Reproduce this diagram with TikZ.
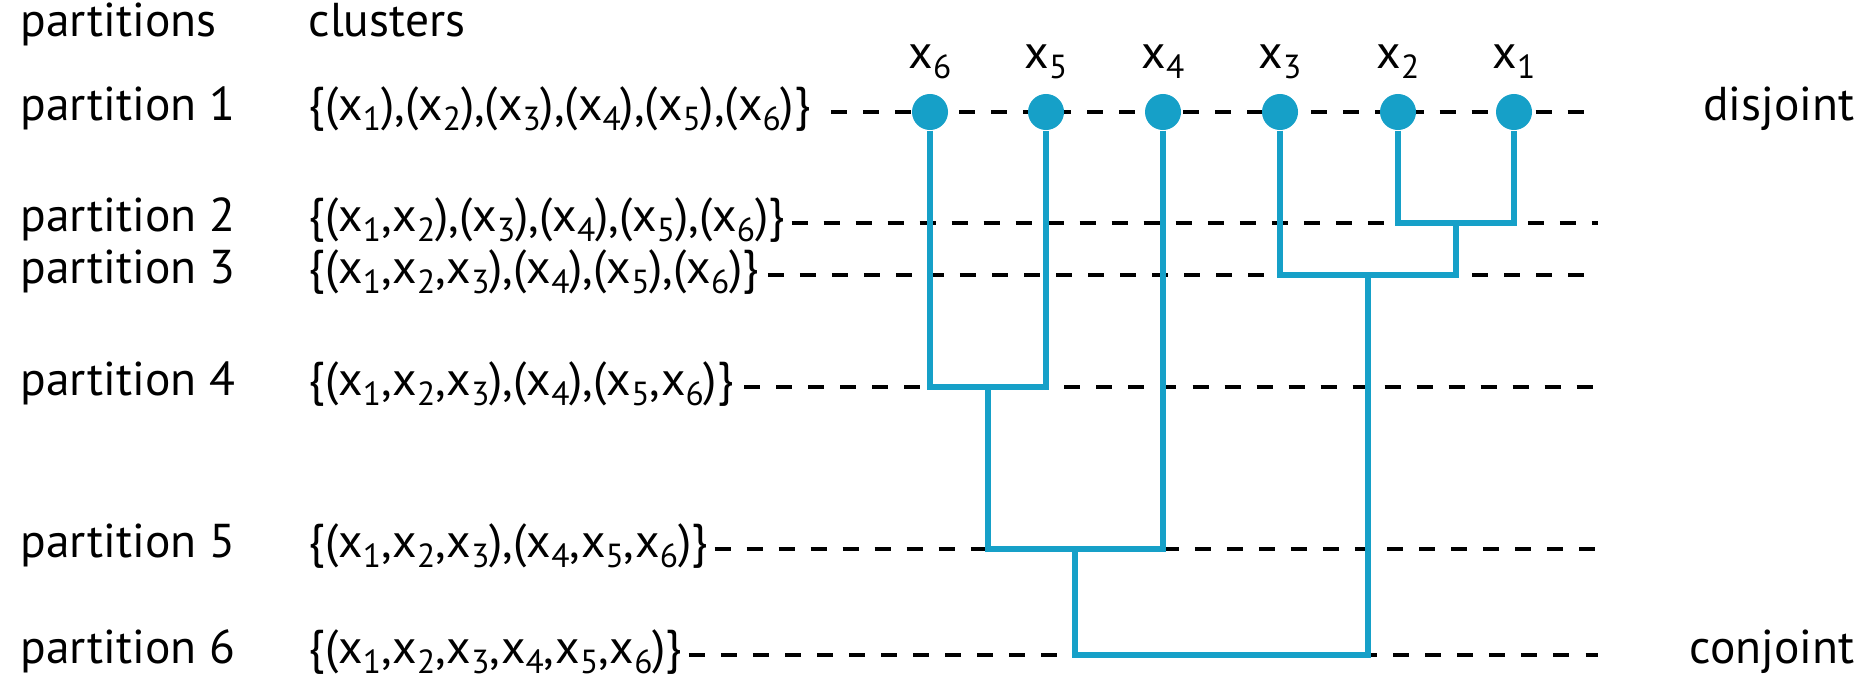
\documentclass[tikz,border=0pt]{standalone}
\usepackage{fontspec}
\setmainfont{PT Sans}
\usepackage{xcolor}
\usepackage{tikz}
\usetikzlibrary{positioning,calc}

\definecolor{dendroblue}{RGB}{22,160,200}
\newcommand{\xs}[1]{x\raisebox{-0.42ex}{\fontsize{9.5}{11}\selectfont #1}}

\begin{document}
\begin{tikzpicture}[
    x=0.01cm, y=-0.01cm,
    font=\fontsize{13.5}{16}\selectfont,
    rowlabel/.style={anchor=mid west, inner sep=0pt},
    clusterset/.style={anchor=mid west, inner sep=0pt},
    xlab/.style={anchor=mid, inner sep=0pt},
    leaf/.style={circle, fill=dendroblue, inner sep=0pt, minimum size=0.36cm},
    guide/.style={draw, line width=1.05pt, dash pattern=on 0.16cm off 0.16cm},
    link/.style={draw=dendroblue, line width=1.8pt}
]
\useasboundingbox (0,0) rectangle (1870,682);

% Headings
\node[rowlabel] (hp) at (20,28) {partitions};
\node[clusterset] (hc) at (308,28) {clusters};

% Partitions (left column)
\node[rowlabel] (r1) at (20,112) {partition 1};
\node[rowlabel] (r2) at (20,223) {partition 2};
\node[rowlabel] (r3) at (20,275) {partition 3};
\node[rowlabel] (r4) at (20,387) {partition 4};
\node[rowlabel] (r5) at (20,549) {partition 5};
\node[rowlabel] (r6) at (20,655) {partition 6};

% Clusters
\node[clusterset] (c1) at (308,112) {\{(\xs{1}),(\xs{2}),(\xs{3}),(\xs{4}),(\xs{5}),(\xs{6})\}};
\node[clusterset] (c2) at (308,223) {\{(\xs{1},\xs{2}),(\xs{3}),(\xs{4}),(\xs{5}),(\xs{6})\}};
\node[clusterset] (c3) at (308,275) {\{(\xs{1},\xs{2},\xs{3}),(\xs{4}),(\xs{5}),(\xs{6})\}};
\node[clusterset] (c4) at (308,387) {\{(\xs{1},\xs{2},\xs{3}),(\xs{4}),(\xs{5},\xs{6})\}};
\node[clusterset] (c5) at (308,549) {\{(\xs{1},\xs{2},\xs{3}),(\xs{4},\xs{5},\xs{6})\}};
\node[clusterset] (c6) at (308,655) {\{(\xs{1},\xs{2},\xs{3},\xs{4},\xs{5},\xs{6})\}};

% Right ends of the dashed guides
\coordinate (e1) at (1598,112);
\coordinate (e2) at (1598,223);
\coordinate (e3) at (1598,275);
\coordinate (e4) at (1598,387);
\coordinate (e5) at (1598,549);
\coordinate (e6) at (1598,655);

% Dashed guides
\draw[guide] ([xshift=0.2cm]c1.mid east) -- (e1);
\draw[guide] ([xshift=0.06cm]c2.mid east) -- (e2);
\draw[guide] ([xshift=0.08cm]c3.mid east) -- (e3);
\draw[guide] ([xshift=0.1cm]c4.mid east) -- (e4);
\draw[guide] ([xshift=0.06cm]c5.mid east) -- (e5);
\draw[guide] ([xshift=0.06cm]c6.mid east) -- (e6);

\node[anchor=mid east, inner sep=0pt] (dis) at (1855,112) {disjoint};
\node[anchor=mid east, inner sep=0pt] (con) at (1855,655) {conjoint};

% Leaves
\node[leaf] (n6) at (930,112) {};
\node[leaf] (n5) at (1046,112) {};
\node[leaf] (n4) at (1163,112) {};
\node[leaf] (n3) at (1280,112) {};
\node[leaf] (n2) at (1398,112) {};
\node[leaf] (n1) at (1514,112) {};

\node[xlab] (l6) at (930,60) {\xs{6}};
\node[xlab] (l5) at (1046,60) {\xs{5}};
\node[xlab] (l4) at (1163,60) {\xs{4}};
\node[xlab] (l3) at (1280,60) {\xs{3}};
\node[xlab] (l2) at (1398,60) {\xs{2}};
\node[xlab] (l1) at (1514,60) {\xs{1}};

% Merge points
\coordinate (j12) at (1456,223);
\coordinate (j123) at (1368,275);
\coordinate (j56) at (988,387);
\coordinate (j456) at (1075,549);
\coordinate (jall) at (1221,655);

% Dendrogram
\draw[link] (n2) |- (j12) -| (n1);
\draw[link] (n3) |- (j123) -| (j12);
\draw[link] (n6) |- (j56) -| (n5);
\draw[link] (n4) |- (j456) -| (j56);
\draw[link] (j456) |- (jall) -| (j123);

\end{tikzpicture}
\end{document}
